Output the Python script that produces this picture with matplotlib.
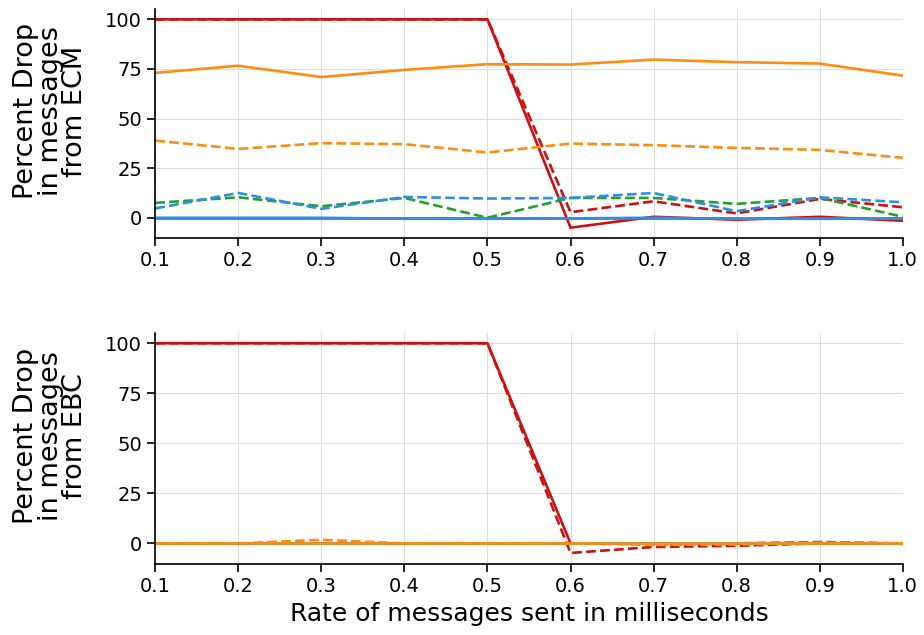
import matplotlib
matplotlib.use("Agg")
import matplotlib.pyplot as plt

rates = [0.1, 0.2, 0.3, 0.4, 0.5, 0.6, 0.7, 0.8, 0.9, 1.0]

# Top panel: percent drop in messages from ECM
ecm_red_solid = [100, 100, 100, 100, 100, -5, 0.5, -1, 0.5, -1.5]
ecm_red_dashed = [100, 100, 100, 100, 100, 2.8, 8.3, 2.2, 9.5, 5.3]
ecm_green_solid = [0, 0, 0, 0, 0, 0, 0, 0, 0, 0]
ecm_green_dashed = [7.5, 10.3, 5.8, 10, 0, 10, 10, 7, 10, 0.5]
ecm_blue_solid = [0, 0, 0, -0.5, -0.5, -0.3, 0, -0.5, -0.5, -0.5]
ecm_blue_dashed = [4.7, 12.5, 4.5, 10.5, 9.7, 10, 12.5, 3.3, 10.3, 7.8]
ecm_orange_solid = [73, 76.6, 70.9, 74.5, 77.4, 77.2, 79.7, 78.4, 77.7, 71.6]
ecm_orange_dashed = [38.9, 34.7, 37.6, 37.1, 32.9, 37.4, 36.6, 35.2, 34.2, 30.2]

# Bottom panel: percent drop in messages from EBC
ebc_red_solid = [100, 100, 100, 100, 100, 0, 0, 0, 0, 0]
ebc_red_dashed = [100, 100, 100, 100, 100, -4.8, -1.8, -1.2, 0, 0]
ebc_green_solid = [0, 0, 0, 0, 0, 0, 0, 0, 0, 0]
ebc_green_dashed = [0, 0, 0, 0, 0, 0, 0, 0, 0.3, 0]
ebc_blue_solid = [0, 0, 0, 0, 0, 0, 0, 0, 0, 0]
ebc_blue_dashed = [0, 0, 0, 0, 0, 0, 0, 0, 0.7, 0]
ebc_orange_solid = [0, 0, 0, 0, 0, 0, 0, 0, 0, 0]
ebc_orange_dashed = [0, 0, 1.8, 0, 0, 0, -0.8, -0.5, 0, 0]

xticks = [0.1, 0.2, 0.3, 0.4, 0.5, 0.6, 0.7, 0.8, 0.9, 1.0]
yticks = [0, 25, 50, 75, 100]

RED = "#cc1111"
GREEN = "#22a02c"
BLUE = "#2f8ee6"
ORANGE = "#ff8c0f"

fig = plt.figure(figsize=(9.24, 6.35), dpi=100)
ax1 = fig.add_axes([0.168, 0.625, 0.809, 0.361])
ax2 = fig.add_axes([0.168, 0.112, 0.809, 0.364])

panels = [
    (ax1, [(ecm_red_solid, RED, "-"), (ecm_red_dashed, RED, "--"),
           (ecm_green_solid, GREEN, "-"), (ecm_green_dashed, GREEN, "--"),
           (ecm_blue_solid, BLUE, "-"), (ecm_blue_dashed, BLUE, "--"),
           (ecm_orange_solid, ORANGE, "-"), (ecm_orange_dashed, ORANGE, "--")],
     "Percent Drop\nin messages\nfrom ECM"),
    (ax2, [(ebc_red_solid, RED, "-"), (ebc_red_dashed, RED, "--"),
           (ebc_green_solid, GREEN, "-"), (ebc_green_dashed, GREEN, "--"),
           (ebc_blue_solid, BLUE, "-"), (ebc_blue_dashed, BLUE, "--"),
           (ebc_orange_solid, ORANGE, "-"), (ebc_orange_dashed, ORANGE, "--")],
     "Percent Drop\nin messages\nfrom EBC"),
]

for ax, series, lab in panels:
    for vals, c, ls in series:
        ax.plot(rates, vals, color=c, linestyle=ls, linewidth=1.9)
    ax.set_xlim(0.1, 1.0)
    ax.set_ylim(-10.25, 105.25)
    ax.set_xticks(xticks)
    ax.set_xticklabels([f"{v:.1f}" for v in xticks])
    ax.set_yticks(yticks)
    ax.grid(True, color="#dddddd", linewidth=0.8)
    ax.set_axisbelow(True)
    for s in ["top", "right"]:
        ax.spines[s].set_visible(False)
    for s in ["left", "bottom"]:
        ax.spines[s].set_linewidth(1.2)
    ax.tick_params(axis="both", labelsize=14, length=6, width=1.2)
    ax.set_ylabel(lab, fontsize=19.5, linespacing=0.92)
    ax.yaxis.set_label_coords(-0.09, 0.555)

ax2.set_xlabel("Rate of messages sent in milliseconds", fontsize=18)

fig.savefig("out.png", dpi=100)
